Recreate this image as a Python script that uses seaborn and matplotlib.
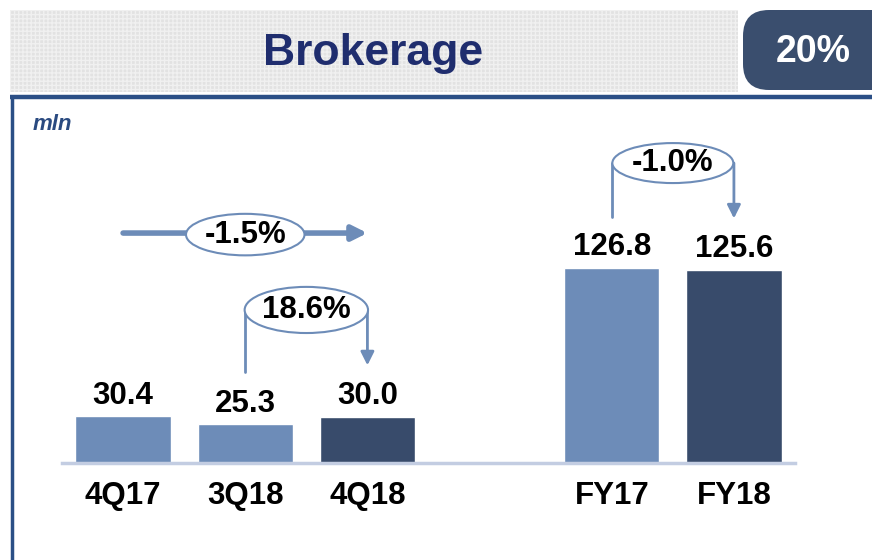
import pandas as pd
import seaborn as sns
import matplotlib.pyplot as plt
from matplotlib.patches import Rectangle, FancyBboxPatch, Ellipse

# chart data
periods = ["4Q17", "3Q18", "4Q18", "FY17", "FY18"]
values = [30.4, 25.3, 30.0, 126.8, 125.6]
slot_order = ["4Q17", "3Q18", "4Q18", "", "FY17", "FY18"]
bar_colors = ["#6d8cb8", "#6d8cb8", "#384b6b", "#6d8cb8", "#384b6b"]

# growth bubbles: (label, from slot, to slot)
changes = [("-1.5%", 0, 2), ("18.6%", 1, 2), ("-1.0%", 4, 5)]

title = "Brokerage"
badge = "20%"
unit = "mln"

LIGHT = "#6d8cb8"
NAVY = "#1f2d6e"
FRAME = "#2b4f86"


def draw_frame(fig):
    deco = fig.add_axes([0, 0, 1, 1])
    deco.set_xlim(0, 872)
    deco.set_ylim(560, 0)
    deco.axis("off")
    # hatched grey title band
    deco.add_patch(Rectangle((10, 10), 728, 82, facecolor="#e2e2e2",
                             edgecolor="#f0f0f0", hatch="++++", lw=0))
    deco.text(373, 54, title, ha="center", va="center", fontsize=32,
              fontweight="bold", color=NAVY, family="Liberation Sans")
    # badge
    deco.add_patch(FancyBboxPatch((743, 10), 160, 80,
                                  boxstyle="round,pad=0,rounding_size=26",
                                  facecolor="#3a4e6e", edgecolor="none"))
    deco.text(813, 52, badge, ha="center", va="center", fontsize=27,
              fontweight="bold", color="white", family="Liberation Sans")
    # blue frame
    deco.plot([10, 872], [97, 97], color=FRAME, lw=3.2, solid_capstyle="butt")
    deco.plot([12, 12], [96, 560], color=FRAME, lw=2.5, solid_capstyle="butt")
    deco.text(33, 124, unit, ha="left", va="center", fontsize=16,
              fontweight="bold", style="italic", color="#2a4a80",
              family="Liberation Sans")


def bubble(ax, text, cx, cy, w, h):
    ax.add_patch(Ellipse((cx, cy), w, h, facecolor="white", edgecolor=LIGHT,
                         lw=1.5, zorder=5, clip_on=False))
    ax.text(cx, cy, text, ha="center", va="center", fontsize=22.5,
            fontweight="bold", color="black", zorder=6,
            family="Liberation Sans")


def plot_brokerage():
    sns.set_theme(style="white")
    plt.rcParams["font.family"] = ["Liberation Sans", "DejaVu Sans"]
    fig = plt.figure(figsize=(8.72, 5.6), dpi=100)
    draw_frame(fig)

    ax = fig.add_axes([62 / 872, 97 / 560, 733 / 872, 333 / 560])
    ax.set_facecolor("none")
    df = pd.DataFrame({"period": periods, "value": values})
    palette = dict(zip(periods, bar_colors))
    sns.barplot(data=df, x="period", y="value", hue="period", order=slot_order,
                palette=palette, legend=False, width=0.78, saturation=1,
                ax=ax)
    ax.set_xlim(-0.5, 5.5)
    ax.set_ylim(0, 216.5)

    for cont in ax.containers:
        ax.bar_label(cont, fmt="%.1f", padding=4, fontsize=22.5,
                     fontweight="bold", color="black")

    ax.set_xlabel("")
    ax.set_ylabel("")
    ax.set_yticks([])
    ax.tick_params(axis="x", length=0, pad=13, labelsize=22.5)
    for lab in ax.get_xticklabels():
        lab.set_fontweight("bold")
        lab.set_color("black")
    for side in ["top", "left", "right"]:
        ax.spines[side].set_visible(False)
    ax.spines["bottom"].set_color("#c3cde2")
    ax.spines["bottom"].set_linewidth(2.5)

    # -1.5% : long horizontal arrow 4Q17 -> 4Q18
    lab, a, b = changes[0]
    y0 = 149.5
    ax.annotate("", xy=(b, y0), xytext=(a, y0), clip_on=False,
                arrowprops=dict(arrowstyle="-|>", lw=4, color=LIGHT,
                                mutation_scale=22, shrinkA=0, shrinkB=0))
    bubble(ax, lab, (a + b) / 2, y0 - 1, 0.97, 27)

    # 18.6% : 3Q18 -> 4Q18
    lab, a, b = changes[1]
    yc = 99.5
    ax.plot([a, a], [yc, 59], color=LIGHT, lw=2, zorder=4)
    ax.annotate("", xy=(b, 63.5), xytext=(b, yc),
                arrowprops=dict(arrowstyle="-|>", lw=2, color=LIGHT,
                                mutation_scale=20, shrinkA=0, shrinkB=0))
    bubble(ax, lab, (a + b) / 2, yc, 1.01, 30)

    # -1.0% : FY17 -> FY18
    lab, a, b = changes[2]
    yc = 195
    ax.plot([a, a], [yc, 160], color=LIGHT, lw=2, zorder=4, clip_on=False)
    ax.annotate("", xy=(b, 159), xytext=(b, yc), annotation_clip=False,
                arrowprops=dict(arrowstyle="-|>", lw=2, color=LIGHT,
                                mutation_scale=20, shrinkA=0, shrinkB=0))
    bubble(ax, lab, (a + b) / 2, yc, 0.99, 26)

    fig.savefig("out.png", dpi=100)


if __name__ == "__main__":
    plot_brokerage()
